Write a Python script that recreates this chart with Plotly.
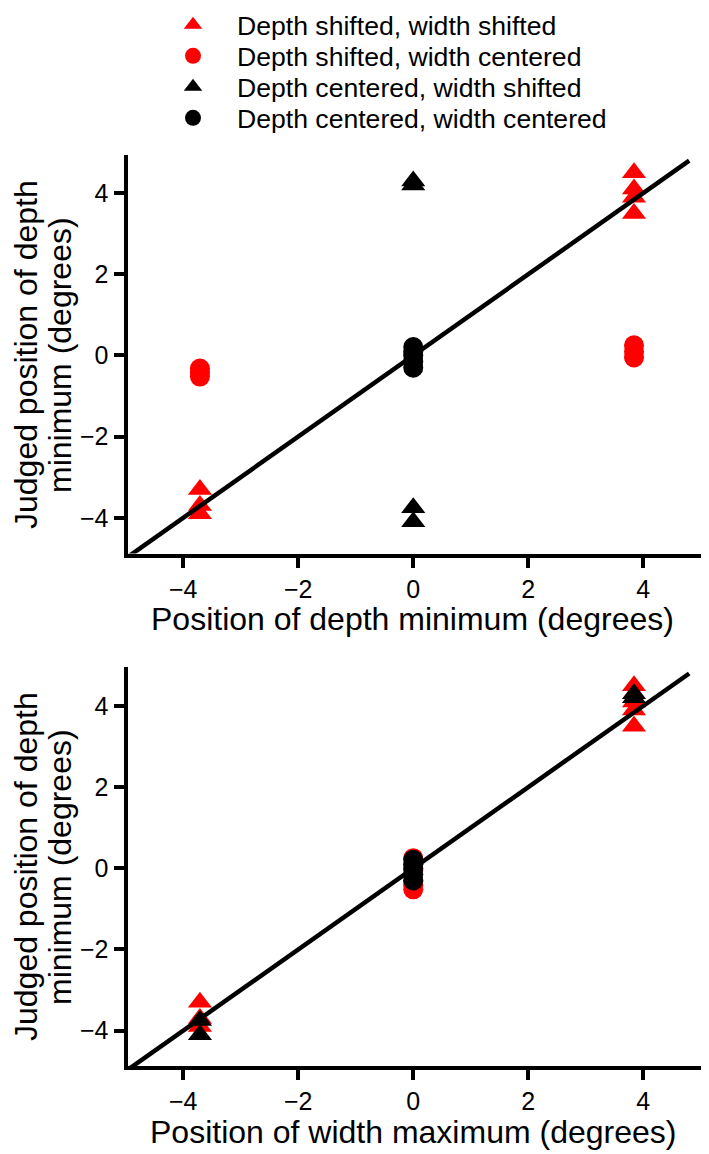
import plotly.graph_objects as go

# ---------------- data ----------------
series_names = [
    "Depth shifted, width shifted",
    "Depth shifted, width centered",
    "Depth centered, width shifted",
    "Depth centered, width centered",
]
series_colors = ["#FF0000", "#FF0000", "#000000", "#000000"]
series_symbols = ["triangle-up", "circle", "triangle-up", "circle"]

# position of depth minimum (deg)
ss_depth = [-3.71, -3.71, -3.71, 3.84, 3.84, 3.84, 3.84]
sc_depth = [-3.71, -3.71, -3.71, 3.84, 3.84, 3.84]
cs_depth = [0, 0, 0, 0]
cc_depth = [0, 0, 0, 0, 0]

# position of width maximum (deg)
ss_width = [-3.71, -3.71, -3.71, 3.84, 3.84, 3.84, 3.84]
sc_width = [0, 0, 0, 0, 0, 0]
cs_width = [3.84, 3.84, -3.71, -3.71]
cc_width = [0, 0, 0, 0, 0]

# judged position of depth minimum (deg)
ss_judged = [-3.3, -3.7, -3.9, 4.5, 4.1, 3.9, 3.5]
sc_judged = [-0.32, -0.42, -0.52, 0.25, 0.1, -0.05]
cs_judged = [4.3, 4.2, -3.75, -4.1]
cc_judged = [0.21, 0.1, 0.0, -0.15, -0.3]

identity_x = [-5, 4.8]
identity_y = [-5, 4.8]

tick_vals = [-4, -2, 0, 2, 4]
tick_text = ["\u22124", "\u22122", "0", "2", "4"]

x_title_top = "Position of depth minimum (degrees)"
x_title_bottom = "Position of width maximum (degrees)"
y_title_lines = ["Judged position of depth", "minimum (degrees)"]

depth_sets = [ss_depth, sc_depth, cs_depth, cc_depth]
width_sets = [ss_width, sc_width, cs_width, cc_width]
judged_sets = [ss_judged, sc_judged, cs_judged, cc_judged]

# ---------------- figure ----------------
PAGE_OFF = 8            # default body margin of the html page
W, H = 709 - PAGE_OFF, 1154 - PAGE_OFF
FONT = "Liberation Sans, Arial, Helvetica, sans-serif"

fig = go.Figure()
legend_ids = ["legend", "legend2", "legend3", "legend4"]

for i in range(4):
    fig.add_trace(go.Scatter(
        x=depth_sets[i], y=judged_sets[i], mode="markers", name=series_names[i],
        marker=dict(symbol=series_symbols[i], color=series_colors[i], size=21 if i % 2 == 0 else 20,
                    line=dict(width=0)),
        xaxis="x", yaxis="y", legend=legend_ids[i], showlegend=True,
    ))
fig.add_trace(go.Scatter(x=identity_x, y=identity_y, mode="lines",
                         line=dict(color="black", width=4.5), xaxis="x", yaxis="y",
                         showlegend=False))

for i in range(4):
    fig.add_trace(go.Scatter(
        x=width_sets[i], y=judged_sets[i], mode="markers", name=series_names[i],
        marker=dict(symbol=series_symbols[i], color=series_colors[i], size=21 if i % 2 == 0 else 20,
                    line=dict(width=0)),
        xaxis="x2", yaxis="y2", showlegend=False,
    ))
fig.add_trace(go.Scatter(x=identity_x, y=identity_y, mode="lines",
                         line=dict(color="black", width=4.5), xaxis="x2", yaxis="y2",
                         showlegend=False))

def px_x(p):
    return (p - PAGE_OFF) / W

def px_y(p):
    return 1 - (p - PAGE_OFF) / H

axis_common = dict(
    showline=True, linewidth=4, linecolor="black", ticks="outside", ticklen=10,
    tickwidth=4, tickcolor="black", tickvals=tick_vals, ticktext=tick_text,
    showgrid=False, zeroline=False, automargin=False,
    tickfont=dict(family=FONT, size=25, color="black"),
)

xdom = [px_x(127.5), px_x(703)]
fig.update_layout(
    width=W, height=H,
    margin=dict(l=0, r=0, t=0, b=0, autoexpand=False),
    paper_bgcolor="white", plot_bgcolor="white",
    font=dict(family=FONT, color="black"),
    xaxis=dict(domain=xdom, range=[-4.97, 5.04], anchor="y", **axis_common),
    yaxis=dict(domain=[px_y(553.5), px_y(155)], range=[-4.88, 4.94], anchor="x", **axis_common),
    xaxis2=dict(domain=xdom, range=[-4.97, 5.04], anchor="y2", **axis_common),
    yaxis2=dict(domain=[px_y(1066.3), px_y(667)], range=[-4.88, 4.96], anchor="x2", **axis_common),
)

row_y = [25, 56, 87, 118]
for i, lid in enumerate(legend_ids):
    fig.update_layout({lid: dict(
        x=px_x(149), y=px_y(row_y[i]), xanchor="left", yanchor="middle",
        font=dict(family=FONT, size=26.6, color="black"), itemwidth=78,
        bgcolor="rgba(0,0,0,0)", borderwidth=0,
    )})

annots = [
    dict(text=x_title_top, x=px_x(413), y=px_y(619), xanchor="center", yanchor="middle"),
    dict(text=x_title_bottom, x=px_x(413), y=px_y(1132), xanchor="center", yanchor="middle"),
]
for yc in (355, 867):
    annots.append(dict(text=y_title_lines[0], x=px_x(26), y=px_y(yc), xanchor="center",
                       yanchor="middle", textangle=-90))
    annots.append(dict(text=y_title_lines[1], x=px_x(60), y=px_y(yc), xanchor="center",
                       yanchor="middle", textangle=-90))
for a in annots:
    fig.add_annotation(xref="paper", yref="paper", showarrow=False,
                       font=dict(family=FONT, size=32, color="black"), **a)

fig.write_html("out.html")
